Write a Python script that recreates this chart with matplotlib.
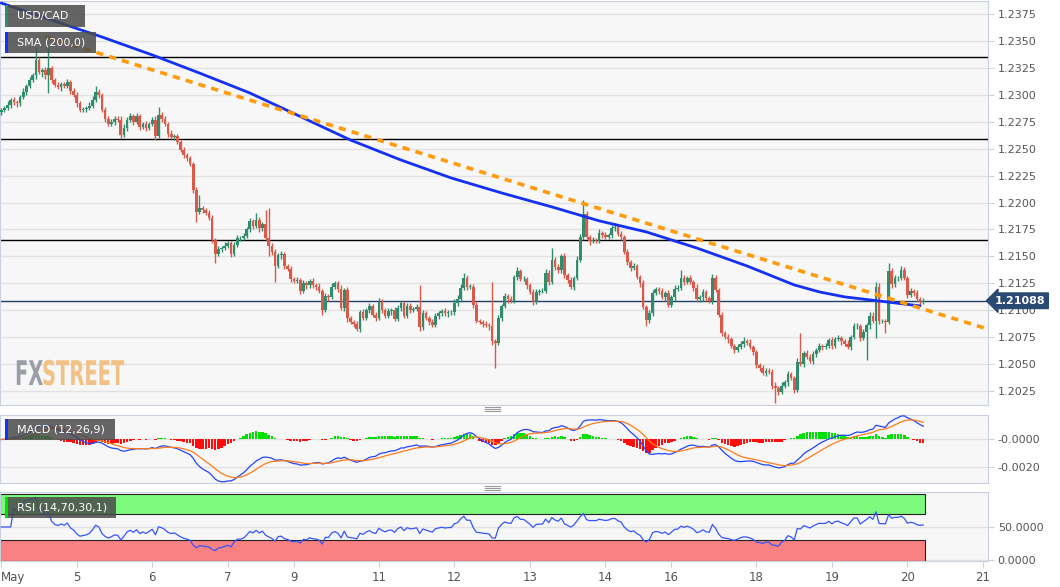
import numpy as np
import pandas as pd
import matplotlib
matplotlib.use('Agg')
import matplotlib.pyplot as plt
from matplotlib.patches import Rectangle, PathPatch
from matplotlib.lines import Line2D
from matplotlib.textpath import TextPath
from matplotlib.font_manager import FontProperties
from matplotlib.transforms import Affine2D

# hourly USD/CAD closes, in pips above 1.2000
close_pips = [
    286, 288, 291, 295, 293, 292, 298, 303, 308, 314,
    318, 332, 321, 323, 318, 325, 314, 309, 307, 310,
    308, 312, 304, 300, 292, 286, 287, 288, 290, 295,
    303, 300, 286, 278, 273, 275, 278, 277, 263, 269,
    277, 280, 275, 280, 270, 273, 269, 273, 277, 262,
    281, 278, 273, 264, 261, 262, 256, 249, 244, 241,
    236, 212, 191, 195, 193, 190, 186, 165, 152, 157,
    158, 160, 162, 152, 161, 167, 167, 169, 175, 183,
    178, 184, 176, 180, 167, 160, 154, 141, 151, 152,
    141, 138, 129, 127, 128, 118, 125, 123, 127, 123,
    122, 118, 100, 113, 112, 122, 125, 120, 102, 119,
    93, 89, 87, 83, 98, 93, 100, 104, 96, 93,
    108, 100, 95, 99, 100, 92, 102, 107, 95, 104,
    100, 101, 103, 84, 97, 93, 89, 86, 95, 97,
    99, 97, 98, 98, 107, 110, 121, 130, 122, 122,
    105, 90, 89, 87, 86, 85, 71, 70, 93, 104,
    113, 110, 109, 131, 136, 129, 129, 123, 117, 108,
    117, 118, 118, 135, 126, 147, 140, 137, 150, 133,
    128, 122, 130, 147, 168, 189, 168, 164, 165, 164,
    172, 170, 168, 170, 176, 177, 171, 168, 154, 145,
    139, 141, 131, 125, 103, 91, 97, 116, 120, 118,
    112, 116, 105, 112, 120, 121, 130, 126, 130, 126,
    121, 110, 112, 117, 111, 109, 130, 119, 96, 79,
    75, 73, 67, 63, 66, 69, 71, 70, 66, 61,
    49, 46, 42, 44, 43, 30, 28, 24, 30, 33,
    41, 37, 26, 52, 50, 60, 57, 53, 59, 63,
    67, 66, 67, 72, 67, 73, 74, 71, 69, 66,
    75, 85, 85, 74, 80, 86, 95, 90, 122, 90,
    90, 89, 136, 124, 130, 130, 137, 130, 114, 118,
    116, 110, 108, 109,
]
first_open_pips = 284

# wick lengths beyond the body, in pips
hi_wick = [
    2, 2, 3, 2, 3, 2, 2, 3, 2, 3,
    2, 12, 3, 2, 3, 19, 2, 2, 3, 2,
    2, 3, 2, 2, 3, 2, 2, 2, 3, 4,
    5, 2, 2, 3, 2, 3, 2, 2, 3, 4,
    2, 3, 2, 3, 2, 2, 3, 2, 2, 3,
    8, 3, 2, 2, 3, 2, 2, 2, 3, 2,
    2, 2, 2, 12, 2, 2, 3, 2, 2, 3,
    2, 3, 2, 2, 2, 3, 2, 3, 2, 3,
    2, 6, 3, 2, 13, 28, 2, 3, 2, 3,
    2, 2, 3, 2, 3, 2, 3, 2, 2, 3,
    2, 3, 2, 3, 2, 3, 2, 2, 3, 2,
    3, 2, 2, 3, 2, 3, 2, 3, 2, 2,
    3, 2, 2, 3, 2, 3, 3, 2, 2, 3,
    3, 2, 3, 20, 3, 2, 2, 3, 2, 2,
    2, 3, 2, 2, 3, 4, 3, 5, 3, 2,
    2, 3, 2, 2, 3, 2, 41, 2, 3, 2,
    3, 2, 3, 2, 4, 2, 3, 2, 2, 3,
    3, 2, 3, 3, 2, 11, 2, 3, 2, 3,
    2, 3, 2, 3, 3, 13, 3, 2, 3, 2,
    3, 2, 3, 2, 3, 4, 2, 3, 2, 3,
    2, 3, 2, 2, 3, 2, 3, 3, 2, 2,
    3, 2, 3, 2, 3, 2, 7, 3, 2, 3,
    2, 3, 2, 3, 2, 2, 4, 3, 2, 2,
    2, 3, 2, 2, 3, 2, 4, 2, 3, 2,
    2, 2, 3, 2, 2, 2, 3, 2, 3, 2,
    3, 2, 2, 4, 27, 2, 3, 2, 3, 2,
    3, 2, 3, 2, 3, 2, 3, 2, 2, 3,
    2, 3, 3, 2, 3, 2, 3, 3, 4, 3,
    2, 2, 8, 3, 3, 2, 4, 3, 2, 3,
    2, 3, 2, 2,
]
lo_wick = [
    3, 2, 2, 3, 2, 3, 2, 2, 3, 2,
    2, 3, 2, 4, 3, 16, 3, 2, 2, 3,
    2, 2, 3, 2, 3, 2, 2, 3, 2, 2,
    2, 3, 2, 3, 2, 2, 3, 2, 3, 2,
    3, 2, 3, 2, 3, 2, 3, 2, 2, 4,
    2, 3, 2, 3, 2, 3, 2, 2, 3, 2,
    2, 3, 9, 2, 3, 2, 2, 3, 8, 2,
    3, 2, 2, 3, 2, 2, 3, 2, 2, 2,
    3, 2, 3, 2, 2, 10, 3, 15, 2, 3,
    3, 2, 3, 2, 2, 3, 2, 3, 2, 2,
    3, 2, 4, 2, 3, 2, 2, 3, 2, 3,
    4, 2, 3, 2, 3, 2, 2, 3, 2, 3,
    2, 3, 2, 2, 3, 2, 2, 3, 2, 2,
    3, 2, 2, 3, 2, 2, 3, 2, 2, 3,
    2, 2, 3, 2, 2, 3, 2, 2, 3, 2,
    3, 2, 2, 3, 2, 3, 3, 24, 2, 3,
    2, 3, 2, 2, 3, 2, 2, 3, 2, 3,
    2, 3, 2, 2, 3, 2, 3, 2, 2, 3,
    3, 2, 3, 2, 2, 3, 2, 3, 2, 2,
    2, 3, 2, 2, 3, 2, 2, 3, 2, 3,
    3, 2, 2, 3, 2, 6, 3, 2, 2, 3,
    2, 3, 2, 2, 3, 2, 2, 3, 2, 2,
    3, 2, 2, 3, 2, 2, 3, 2, 2, 3,
    2, 3, 2, 3, 2, 2, 3, 2, 2, 3,
    3, 2, 2, 3, 2, 3, 14, 3, 2, 2,
    3, 2, 3, 2, 2, 3, 2, 2, 3, 2,
    2, 3, 2, 2, 3, 2, 2, 3, 2, 2,
    3, 2, 2, 3, 2, 26, 3, 2, 16, 3,
    2, 10, 2, 3, 2, 3, 2, 2, 3, 2,
    3, 2, 3, 2,
]

# SMA(200) at some bars
sma_idx = [0, 16, 32, 48, 63, 79, 92, 111, 127, 143, 159, 175, 190, 205, 221, 237,
           252, 260, 268, 276, 284, 292]
sma_val = [1.23852, 1.23694, 1.23537, 1.23370, 1.23202, 1.23017, 1.22840, 1.22580,
           1.22395, 1.22228, 1.22089, 1.21959, 1.21830, 1.21727, 1.21578, 1.21411,
           1.21235, 1.21170, 1.21124, 1.21096, 1.21068, 1.21040]

trend_idx = [14, 314.3]
trend_val = [1.2354, 1.20818]

levels = [1.2335, 1.2259, 1.2165]
last_price = 1.21088

day_idx = [0, 24, 48, 72, 93, 120, 144, 168, 192, 213, 240, 264, 288, 312]
day_lbl = ['May', '5', '6', '7', '9', '11', '12', '13', '14', '16', '18', '19', '20', '21']

price_ticks = [1.2025 + 0.0025 * k for k in range(15)]

W, H = 1060, 587
UP, DOWN = '#2f8c6c', '#d95a48'
BG, EDGE, GRID, TXT = '#f7f7f7', '#c9d0e2', '#e2e2e2', '#555555'

close = 1.2 + np.array(close_pips) / 10000
opn = np.r_[1.2 + first_open_pips / 10000, close[:-1]]
high = np.maximum(opn, close) + np.array(hi_wick) / 10000
low = np.minimum(opn, close) - np.array(lo_wick) / 10000
idx = np.arange(len(close))

s = pd.Series(close)
macd = s.ewm(span=12, adjust=False).mean() - s.ewm(span=26, adjust=False).mean()
signal = macd.ewm(span=9, adjust=False).mean()
hist = macd - signal
delta = s.diff().fillna(0)
gain = delta.clip(lower=0).ewm(alpha=1 / 14, adjust=False).mean()
loss = (-delta.clip(upper=0)).ewm(alpha=1 / 14, adjust=False).mean()
rsi = 100 - 100 / (1 + gain / loss.replace(0, np.nan))
rsi = rsi.fillna(50)


def fy(py):
    return 1 - py / H


fig = plt.figure(figsize=(W / 100, H / 100), dpi=100)
fig.patch.set_facecolor('white')

ax = fig.add_axes([0, fy(405), 988 / W, 404 / H])
ax_m = fig.add_axes([0, fy(483), 988 / W, 68 / H])
ax_r = fig.add_axes([0, fy(561), 988 / W, 69 / H])

xlim = (-0.4, 313.6)
for a in (ax, ax_m, ax_r):
    a.set_facecolor(BG)
    a.set_xlim(*xlim)
    for sp in a.spines.values():
        sp.set_color(EDGE)
    a.yaxis.tick_right()
    a.tick_params(axis='y', colors=EDGE, labelcolor=TXT, labelsize=8, length=4, pad=3)
    a.tick_params(axis='x', bottom=False, labelbottom=False)
    a.grid(axis='y', color=GRID, lw=1)
    a.set_axisbelow(True)

# main price panel
ax.set_ylim(1.2012, 1.23871)
ax.set_yticks(price_ticks)
ax.set_yticklabels(['%.4f' % v for v in price_ticks])

for lv in levels:
    ax.axhline(lv, color='black', lw=1, zorder=2)
ax.axhline(last_price, color='#223f66', lw=1, zorder=2)

cols = np.where(close >= opn, UP, DOWN)
ax.vlines(idx, low, high, colors=cols, lw=1, zorder=3)
body = np.maximum(np.abs(close - opn), 0.00003)
ax.bar(idx, body, bottom=np.minimum(opn, close), width=0.85, color=cols, lw=0, zorder=3)

ax.plot(sma_idx, sma_val, color='#1530f5', lw=2, zorder=4, solid_capstyle='round',
        solid_joinstyle='round')
ax.plot(trend_idx, trend_val, color='#ff9a0a', lw=2.6, linestyle=(0, (2, 1.7)), zorder=5)

ax.text(1.007, last_price, '1.21088', transform=ax.get_yaxis_transform(), ha='left', va='center',
        color='white', fontsize=8, fontweight='bold', clip_on=False, zorder=10,
        bbox=dict(boxstyle='larrow,pad=0.25', fc='#2b4a73', ec='#2b4a73'))

# MACD panel
ax_m.set_ylim(-0.00311, 0.00175)
ax_m.set_yticks([0, -0.002])
ax_m.set_yticklabels(['-0.0000', '-0.0020'])
hcols = np.where(hist >= 0, '#00e000', '#ff0d0d')
ax_m.bar(idx, hist, width=0.8, color=hcols, lw=0, zorder=2)
ax_m.plot(idx, macd, color='#2244ff', lw=0.9, zorder=3)
ax_m.plot(idx, signal, color='#ff7a1a', lw=0.9, zorder=3)

# RSI panel
ax_r.set_ylim(-2.3, 103.8)
ax_r.set_yticks([0, 50])
ax_r.set_yticklabels(['0.0000', '50.0000'])
end = idx[-1] + 0.5
ax_r.add_patch(Rectangle((-0.4, 70), end + 0.4, 30.5, fc='#7dfa7d', ec='#222222', lw=0.8, zorder=2))
ax_r.add_patch(Rectangle((-0.4, -2.3), end + 0.4, 32.3, fc='#f98181', ec='#222222', lw=0.8, zorder=2))
ax_r.plot(idx, rsi, color='#3355ff', lw=0.9, zorder=3)
ax_r.set_xticks(day_idx)
ax_r.set_xticklabels(day_lbl)
ax_r.tick_params(axis='x', bottom=True, labelbottom=True, colors=EDGE, labelcolor=TXT,
                 labelsize=8.5, length=4, pad=3)
ax_r.get_xticklabels()[0].set_ha('left')


# indicator legend boxes
def label_box(x0, y0, x1, y1, text, accent):
    fig.add_artist(Rectangle((x0 / W, fy(y1)), (x1 - x0) / W, (y1 - y0) / H,
                             transform=fig.transFigure, fc='#4a4a4a', alpha=0.85, lw=0, zorder=20))
    fig.add_artist(Rectangle((x0 / W, fy(y1)), 3 / W, (y1 - y0) / H,
                             transform=fig.transFigure, fc=accent, lw=0, zorder=21))
    fig.text((x0 + 12) / W, fy((y0 + y1) / 2), text, color='white', fontsize=8,
             ha='left', va='center', zorder=22)


label_box(5, 5, 85, 27, 'USD/CAD', '#2f8c6c')
label_box(5, 32, 96, 53, 'SMA (200,0)', '#1530f5')
label_box(5, 419, 115, 440, 'MACD (12,26,9)', '#1530f5')
label_box(5, 497, 116, 518, 'RSI (14,70,30,1)', '#00e000')

# panel splitter handles
for yy in (407, 486):
    for k in range(3):
        fig.add_artist(Line2D([485 / W, 500 / W], [fy(yy + 2 * k)] * 2, transform=fig.transFigure,
                              color='#999999', lw=0.8))

# FXSTREET watermark, condensed by scaling the glyph outlines
fp = FontProperties(family='DejaVu Sans', weight='bold')
for txt, x0, col in (('FX', 15, '#9b9ea6'), ('STREET', 42, '#f2c185')):
    tp = TextPath((0, 0), txt, size=1, prop=fp)
    tr = Affine2D().scale(19.5, 34).translate(x0, H - 385)
    fig.add_artist(PathPatch(tp, transform=tr, fc=col, lw=0, zorder=6))

fig.savefig('out.png', dpi=100)
